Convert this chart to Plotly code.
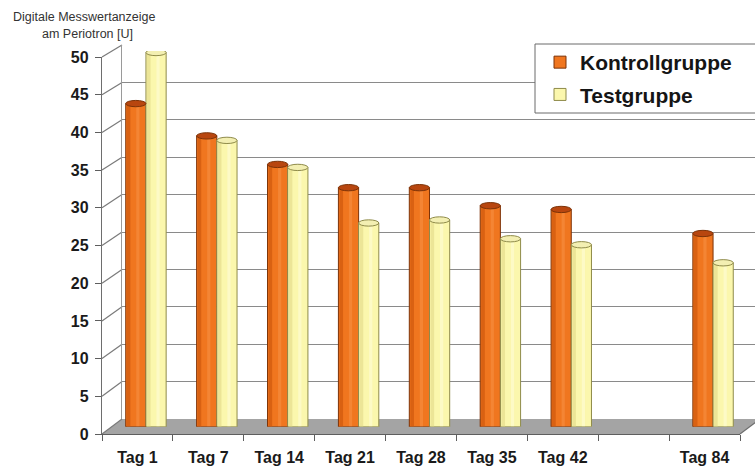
import plotly.graph_objects as go

# ---- data -------------------------------------------------------------
categories = ["Tag 1", "Tag 7", "Tag 14", "Tag 21", "Tag 28", "Tag 35", "Tag 42", "Tag 84"]
slots = [0, 1, 2, 3, 4, 5, 6, 8]          # slot 7 stays empty (gap before day 84)
kontrollgruppe = [43.0, 38.7, 34.9, 31.8, 31.8, 29.4, 28.9, 25.7]
testgruppe = [49.8, 38.1, 34.5, 27.1, 27.5, 25.0, 24.2, 21.8]
y_ticks = list(range(0, 51, 5))
n_slots = 9

# ---- canvas geometry (pixels) ----------------------------------------
W, H = 755, 471
FRONT_X0, FRONT_X1 = 102, 740      # front edge of the floor / category axis
FRONT_Y0, FRONT_Y50 = 434, 57      # front value axis: 0 and 50
BACK_X0 = 122                      # back wall left edge
BACK_Y0, BACK_Y50 = 419, 45        # back wall: 0 and 50
DEPTH_DX, DEPTH_DY = 20, 15
BAR_SHIFT = 8.5                    # cylinders sit halfway into the depth
BAR_Y0 = (FRONT_Y0 + BACK_Y0) / 2
BAR_SCALE = ((FRONT_Y0 - FRONT_Y50) + (BACK_Y0 - BACK_Y50)) / 100.0


def px(x):
    return x / W


def py(y):
    return 1 - y / H


def front_y(v):
    return FRONT_Y0 - (FRONT_Y0 - FRONT_Y50) * v / 50.0


def back_y(v):
    return BACK_Y0 - (BACK_Y0 - BACK_Y50) * v / 50.0


FONT = "Liberation Sans, Arial, sans-serif"

ORANGE = dict(body="#f0761f", dark="#d96112", light="#f7934a", line="#7d3308",
              cap="#b8460f", capline="#7d3308")
YELLOW = dict(body="#fbf7ad", dark="#ece597", light="#fffde0", line="#8f8b4a",
              cap="#f3efb2", capline="#8f8b4a")

BW = 0.285   # width of one cylinder in slot units

fig = go.Figure()

# empty traces so the front-axis and back-wall subplots are created
fig.add_trace(go.Scatter(x=[], y=[], xaxis="x", yaxis="y", showlegend=False,
                         hoverinfo="skip"))
fig.add_trace(go.Scatter(x=[], y=[], xaxis="x3", yaxis="y3", showlegend=False,
                         hoverinfo="skip"))


def add_cylinders(name, values, col, off):
    # main body (also the legend entry)
    fig.add_trace(go.Bar(
        x=slots, y=values, name=name, width=BW, offset=off,
        xaxis="x4", yaxis="y4", legendgroup=name,
        marker=dict(color=col["body"], line=dict(color=col["line"], width=1)),
    ))
    # shaded left side and highlight stripe for a rounded look
    fig.add_trace(go.Bar(
        x=slots, y=values, width=BW * 0.18, offset=off + BW * 0.05,
        xaxis="x4", yaxis="y4", showlegend=False, hoverinfo="skip",
        marker=dict(color=col["dark"], line=dict(width=0)),
    ))
    fig.add_trace(go.Bar(
        x=slots, y=values, width=BW * 0.16, offset=off + BW * 0.52,
        xaxis="x4", yaxis="y4", showlegend=False, hoverinfo="skip",
        marker=dict(color=col["light"], line=dict(width=0), opacity=0.5),
    ))


add_cylinders("Kontrollgruppe", kontrollgruppe, ORANGE, -BW)
add_cylinders("Testgruppe", testgruppe, YELLOW, 0.0)

shapes = []

# floor
shapes.append(dict(
    type="path", xref="paper", yref="paper", layer="below",
    path=(f"M{px(FRONT_X0)},{py(FRONT_Y0)} L{px(BACK_X0)},{py(BACK_Y0)} "
          f"L{px(FRONT_X1 + 40)},{py(BACK_Y0)} L{px(FRONT_X1 + 20)},{py(FRONT_Y0 - 20 * DEPTH_DY / DEPTH_DX)} "
          f"L{px(FRONT_X1)},{py(FRONT_Y0)} Z"),
    fillcolor="#a4a4a4", line=dict(width=0),
))
# right edge of the floor
shapes.append(dict(
    type="line", xref="paper", yref="paper", layer="above",
    x0=px(FRONT_X1), y0=py(FRONT_Y0), x1=px(FRONT_X1 + DEPTH_DX), y1=py(FRONT_Y0 - DEPTH_DY),
    line=dict(color="#6e6e6e", width=1.2),
))
# side wall lines joining front ticks to back grid lines
for v in y_ticks:
    shapes.append(dict(
        type="line", xref="paper", yref="paper", layer="below",
        x0=px(FRONT_X0), y0=py(front_y(v)), x1=px(BACK_X0), y1=py(back_y(v)),
        line=dict(color="#7a7a7a", width=1.2),
    ))

# cylinder bottoms and tops
for values, col, off in ((kontrollgruppe, ORANGE, -BW), (testgruppe, YELLOW, 0.0)):
    for s, v in zip(slots, values):
        shapes.append(dict(
            type="circle", xref="x4", yref="y4", layer="below",
            x0=s + off, x1=s + off + BW, y0=-0.45, y1=0.45,
            fillcolor=col["body"], line=dict(color=col["line"], width=1),
        ))
        shapes.append(dict(
            type="circle", xref="x4", yref="y4", layer="above",
            x0=s + off, x1=s + off + BW, y0=v - 0.42, y1=v + 0.42,
            fillcolor=col["cap"], line=dict(color=col["capline"], width=1),
        ))

# legend frame
shapes.append(dict(
    type="rect", xref="paper", yref="paper", layer="above",
    x0=px(535), x1=px(770), y0=py(113), y1=py(44),
    fillcolor="white", line=dict(color="#6a6a6a", width=1),
))

annotations = [
    dict(text="Digitale Messwertanzeige", xref="paper", yref="paper",
         x=px(84), y=py(17), xanchor="center", yanchor="middle", showarrow=False,
         font=dict(family=FONT, size=12.5, color="#333333")),
    dict(text="am Periotron [U]", xref="paper", yref="paper",
         x=px(87), y=py(34.5), xanchor="center", yanchor="middle", showarrow=False,
         font=dict(family=FONT, size=12.5, color="#333333")),
]

fig.update_layout(
    width=W, height=H,
    margin=dict(l=0, r=0, t=0, b=0, autoexpand=False),
    paper_bgcolor="white", plot_bgcolor="rgba(0,0,0,0)",
    barmode="overlay",
    showlegend=True,
    font=dict(family=FONT, color="#1a1a1a"),
    legend=dict(
        x=px(540), y=py(42), xanchor="left", yanchor="top",
        bgcolor="rgba(0,0,0,0)", borderwidth=0,
        font=dict(family=FONT, size=21, color="#151515", weight="bold"),
        tracegroupgap=2,
    ),
    xaxis=dict(
        domain=[px(FRONT_X0), px(FRONT_X1)], range=[-0.5, n_slots - 0.5],
        anchor="y", tickmode="array", tickvals=slots, ticktext=categories,
        ticks="", showline=True, linecolor="#5e5e5e", linewidth=1.3,
        showgrid=False, zeroline=False, ticklabelstandoff=9, automargin=False,
        tickfont=dict(family=FONT, size=16, color="#1a1a1a", weight="bold"),
        minor=dict(tickmode="array", tickvals=[i - 0.5 for i in range(n_slots + 1)],
                   ticks="outside", ticklen=6, tickcolor="#5e5e5e", tickwidth=1.2,
                   showgrid=False),
    ),
    yaxis=dict(
        domain=[py(FRONT_Y0), py(FRONT_Y50)], range=[0, 50], anchor="x",
        tickmode="array", tickvals=y_ticks, ticks="outside", ticklen=6,
        tickcolor="#5e5e5e", showline=True, linecolor="#6e6e6e", linewidth=1.3,
        showgrid=False, zeroline=False, ticklabelstandoff=3, automargin=False,
        tickfont=dict(family=FONT, size=16, color="#1a1a1a", weight="bold"),
    ),
    xaxis3=dict(domain=[px(BACK_X0), 1], range=[0, 1], anchor="y3",
                visible=False, showgrid=False, zeroline=False),
    yaxis3=dict(
        domain=[py(BACK_Y0), py(BACK_Y50)], range=[0, 50], anchor="x3",
        tickmode="array", tickvals=y_ticks, showticklabels=False, ticks="",
        showgrid=True, gridcolor="#8a8a8a", gridwidth=1.2,
        showline=True, linecolor="#9a9a9a", linewidth=1, zeroline=False,
    ),
    xaxis4=dict(domain=[px(FRONT_X0 + BAR_SHIFT), px(FRONT_X1 + BAR_SHIFT)],
                range=[-0.5, n_slots - 0.5], anchor="y4", visible=False),
    yaxis4=dict(domain=[py(BAR_Y0), py(BAR_Y0 - 50 * BAR_SCALE)], range=[0, 50],
                anchor="x4", visible=False),
    shapes=shapes,
    annotations=annotations,
)

fig.write_html("out.html")
